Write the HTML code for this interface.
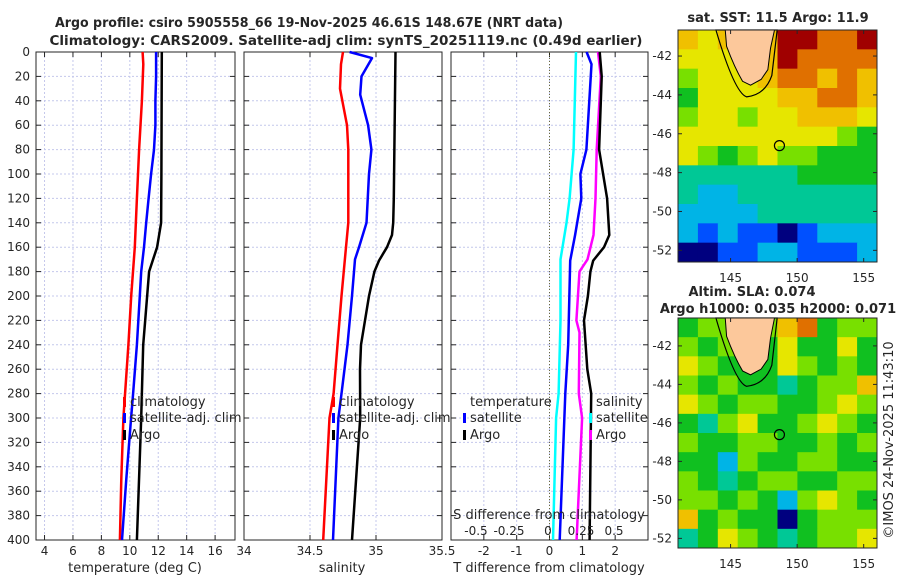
<!DOCTYPE html>
<html><head><meta charset="utf-8"><style>
body{margin:0;background:#fff;font-family:"DejaVu Sans","Liberation Sans",sans-serif;}
svg text{font-family:"DejaVu Sans","Liberation Sans",sans-serif;}
</style></head><body>
<svg id="fig" xmlns="http://www.w3.org/2000/svg" width="900" height="580" viewBox="0 0 900 580">
<g id="g"></g>
</svg>
<script>
// ---- data ----
const tempClimDepth=[0,10,40,80,120,160,200,240,300,350,400];
const tempClim=[10.9,10.95,10.85,10.65,10.5,10.35,10.1,9.9,9.55,9.4,9.3];
const tempSatDepth=[0,20,40,60,80,100,120,140,160,180,200,240,280,300,350,400];
const tempSat=[11.85,11.85,11.8,11.8,11.7,11.5,11.32,11.15,11.0,10.8,10.7,10.5,10.23,10.09,9.75,9.45];
const tempArgoDepth=[0,100,140,160,170,180,220,240,300,400];
const tempArgo=[12.25,12.22,12.2,11.92,11.64,11.36,11.08,10.94,10.8,10.5];
const salClimDepth=[0,10,30,60,80,140,160,200,240,280,300,400];
const salClim=[34.75,34.735,34.727,34.78,34.79,34.79,34.773,34.739,34.708,34.679,34.648,34.6];
const salSatDepth=[0,5,20,35,60,80,100,140,160,170,200,240,280,300,400];
const salSat=[34.80,34.97,34.89,34.88,34.94,34.965,34.947,34.928,34.871,34.841,34.818,34.784,34.739,34.715,34.674];
const salArgoDepth=[0,120,140,150,160,171,180,200,220,240,260,300,400];
const salArgo=[35.148,35.135,35.13,35.121,35.083,35.023,34.988,34.947,34.917,34.886,34.879,34.88,34.818];
const dTSatDepth=[0,10,80,100,120,150,171,240,280,400];
const dTSat=[1.13,1.28,1.125,0.94,0.97,0.78,0.63,0.57,0.48,0.31];
const dTArgoDepth=[0,20,80,120,150,160,171,180,200,220,260,280,400];
const dTArgo=[1.53,1.59,1.51,1.755,1.82,1.66,1.33,1.245,1.17,1.05,1.15,1.27,1.22];
const dSSatDepth=[0,80,120,140,170,220,280,300,400];
const dSSat=[0.212,0.194,0.164,0.14,0.095,0.095,0.08,0.061,0.038];
const dSArgoDepth=[0,20,80,120,150,170,180,220,230,280,300,400];
const dSArgo=[0.379,0.40,0.369,0.36,0.345,0.299,0.239,0.215,0.239,0.233,0.258,0.217];
const depthTicks=[0,20,40,60,80,100,120,140,160,180,200,220,240,260,280,300,320,340,360,380,400];
const tempTicks=[4,6,8,10,12,14,16];
const salTicks=[34,34.5,35,35.5];
const dTTicks=[-2,-1,0,1,2];
const dSTicks=[-0.5,-0.25,0,0.25,0.5];
const latTicks=[-42,-44,-46,-48,-50,-52];
const lonTicks=[145,150,155];
// map grids (colour index 0..9)
const sstGrid=[
[7,6,7,7,7,9,9,8,8,9],
[6,6,6,7,7,9,8,8,8,8],
[5,6,6,6,7,8,8,7,8,7],
[4,6,6,6,6,7,7,8,8,7],
[5,6,6,5,6,6,7,7,7,6],
[6,6,6,6,6,6,6,6,5,4],
[6,5,4,5,6,5,5,4,4,4],
[3,3,3,3,3,3,4,4,4,4],
[3,2,2,3,3,3,3,3,3,3],
[2,2,2,2,3,3,3,3,3,3],
[2,1,2,1,1,0,1,2,2,2],
[0,0,1,1,2,2,1,1,1,2]];
const slaGrid=[
[4,5,5,5,5,7,8,4,5,5],
[5,4,5,4,4,6,4,4,6,4],
[6,5,4,4,4,6,5,4,5,4],
[5,4,5,4,4,3,4,5,5,7],
[6,5,4,5,5,4,4,5,6,5],
[4,3,5,6,4,4,5,6,5,4],
[5,4,4,5,5,4,4,5,4,5],
[4,4,2,5,4,4,5,5,4,4],
[5,4,3,4,5,5,4,4,5,5],
[5,5,4,5,4,2,5,6,5,4],
[7,4,5,4,4,0,4,5,5,5],
[3,4,6,5,4,3,4,5,5,6]];
const cmap=['#00007f','#0050ff','#00b4e6','#00c896','#10c020','#78e000','#e6e600','#f0c000','#e07000','#a00000'];

// ---- helpers ----
const NS='http://www.w3.org/2000/svg';
const G=document.getElementById('g');
function el(tag,attrs,parent){const e=document.createElementNS(NS,tag);for(const k in attrs)e.setAttribute(k,attrs[k]);(parent||G).appendChild(e);return e;}
function txt(x,y,s,anchor,size,weight,parent){const t=el('text',{x:x,y:y,'text-anchor':anchor||'middle','font-size':size||12,'font-weight':weight||'normal',fill:'#262626'},parent);t.textContent=s;return t;}
const top0=52,bot0=540;
function yD(d){return top0+d*(bot0-top0)/400;}
function lin(d0,d1,r0,r1){return v=>r0+(v-d0)*(r1-r0)/(d1-d0);}
const xT=lin(3.4,17.4,36,235), xS=lin(34,35.5,244,442), xdT=lin(-3,3,451,648), xdS=lin(-0.5,0.5,482,614);

function panel(name,x0,x1,xf,ticks,fmt,showY){
  const p=el('g',{});
  
  
  depthTicks.forEach(d=>{el('line',{x1:x0,x2:x1,y1:yD(d),y2:yD(d),stroke:'#c4c8ec','stroke-width':1,'stroke-dasharray':'2,2'},p);
    el('line',{x1:x0,x2:x0+5,y1:yD(d),y2:yD(d),stroke:'#262626'},p);el('line',{x1:x1-5,x2:x1,y1:yD(d),y2:yD(d),stroke:'#262626'},p);
    if(showY){const t=txt(30,yD(d)+4,String(d),'end',12,'normal',p);}});
  ticks.forEach(v=>{const x=xf(v);el('line',{x1:x,x2:x,y1:top0,y2:bot0,stroke:'#c4c8ec','stroke-dasharray':'2,2'},p);
    el('line',{x1:x,x2:x,y1:bot0-5,y2:bot0,stroke:'#262626'},p);el('line',{x1:x,x2:x,y1:top0,y2:top0+5,stroke:'#262626'},p);
    const t=txt(x,555,fmt(v),'middle',12,'normal',p);});
  el('rect',{x:x0,y:top0,width:x1-x0,height:bot0-top0,fill:'none',stroke:'#262626','stroke-width':1},p);
  return p;
}
function series(name,depths,vals,xf,color,w){
  const pts=depths.map((d,i)=>xf(vals[i]).toFixed(1)+','+yD(d).toFixed(1)).join(' ');
  const l=el('polyline',{points:pts,fill:'none',stroke:color,'stroke-width':w||2.5,'stroke-linejoin':'round'});
  
  
}
function legend(x,y,color,label,name){
  el('rect',{x:x,y:y-9,width:3,height:10,fill:color});
  const t=txt(x+7,y,label,'start',13,'normal');
  
  
}

// ---- titles ----
let t=txt(309,27,'Argo profile: csiro 5905558_66 19-Nov-2025 46.61S 148.67E (NRT data)','middle',13,'bold');
t.setAttribute('textLength','508');
t.setAttribute('lengthAdjust','spacingAndGlyphs');


t=txt(346,45,'Climatology: CARS2009. Satellite-adj clim: synTS_20251119.nc (0.49d earlier)','middle',13,'bold');
t.setAttribute('textLength','593');
t.setAttribute('lengthAdjust','spacingAndGlyphs');



// ---- panels ----
panel('temperature-panel',36,235,xT,tempTicks,v=>String(v),true);
panel('salinity-panel',244,442,xS,salTicks,v=>String(v),false);
panel('difference-panel',451,648,xdT,dTTicks,v=>String(v),false);
el('line',{x1:xdT(0),x2:xdT(0),y1:top0,y2:bot0,stroke:'#6b6b3a','stroke-dasharray':'1,2'});

series('temp-climatology-line',tempClimDepth,tempClim,xT,'#ff0000');
series('temp-satellite-line',tempSatDepth,tempSat,xT,'#0000ff');
series('temp-argo-line',tempArgoDepth,tempArgo,xT,'#000000');
series('sal-climatology-line',salClimDepth,salClim,xS,'#ff0000');
series('sal-satellite-line',salSatDepth,salSat,xS,'#0000ff');
series('sal-argo-line',salArgoDepth,salArgo,xS,'#000000');
series('dS-satellite-line',dSSatDepth,dSSat,xdS,'#00ffff');
series('dT-satellite-line',dTSatDepth,dTSat,xdT,'#0000ff');
series('dS-argo-line',dSArgoDepth,dSArgo,xdS,'#ff00ff');
series('dT-argo-line',dTArgoDepth,dTArgo,xdT,'#000000');

legend(123,406,'#ff0000','climatology','legend-climatology');
legend(123,422,'#0000ff','satellite-adj. clim','legend-satellite-adj');
legend(123,439,'#000000','Argo','legend-argo');
legend(332,406,'#ff0000','climatology','legend-climatology-2');
legend(332,422,'#0000ff','satellite-adj. clim','legend-satellite-adj-2');
legend(332,439,'#000000','Argo','legend-argo-2');
t=txt(470,406,'temperature','start',13);
legend(463,422,'#0000ff','satellite','legend-t-satellite');
legend(463,439,'#000000','Argo','legend-t-argo');
t=txt(596,406,'salinity','start',13);
legend(589,422,'#00ffff','satellite','legend-s-satellite');
legend(589,439,'#ff00ff','Argo','legend-s-argo');
t=txt(549,519,'S difference from climatology','middle',13);
dSTicks.forEach(v=>{const s=txt(xdS(v)-(v<0?6:0),535,String(v),'middle',12);});

t=txt(135,572,'temperature (deg C)','middle',13);
t=txt(342,572,'salinity','middle',13);
t=txt(549,572,'T difference from climatology','middle',13);

// ---- maps ----
function map(name,grid,y0,y1,latTop,latBot){
  const x0=678,x1=877,lonL=141.05,lonR=156;
  const m=el('g',{});
  
  
  const rows=grid.length,cols=grid[0].length,cw=(x1-x0)/cols,ch=(y1-y0)/rows;
  grid.forEach((r,i)=>r.forEach((v,j)=>{
    const c=el('rect',{x:x0+j*cw,y:y0+i*ch,width:cw+0.5,height:ch+0.5,fill:cmap[v]},m);
    
    
  }));
  const lx=lin(lonL,lonR,x0,x1), ly=lin(latTop,latBot,y0,y1);
  el('path',{d:`M${lx(143.9)},${y0} Q${lx(145.3)},${ly(-43.9)} ${lx(146.2)},${ly(-44.1)} Q${lx(147.6)},${ly(-44)} ${lx(148.1)},${ly(-43)} L${lx(148.5)},${y0} Z`,fill:'none',stroke:'#000','stroke-width':1.2},m);
  el('path',{d:`M${lx(144.6)},${y0} L${lx(144.7)},${ly(-41.5)} Q${lx(145.3)},${ly(-42.6)} ${lx(145.9)},${ly(-43.3)} L${lx(146.5)},${ly(-43.5)} L${lx(147.3)},${ly(-43.2)} L${lx(147.8)},${ly(-42.7)} L${lx(148.0)},${ly(-41.6)} L${lx(148.3)},${y0} Z`,fill:'#fcc89b',stroke:'#000','stroke-width':1},m);
  el('circle',{cx:lx(148.67),cy:ly(-46.61),r:5,fill:'none',stroke:'#000','stroke-width':1.2},m);
  el('rect',{x:x0,y:y0,width:x1-x0,height:y1-y0,fill:'none',stroke:'#262626'},m);
  latTicks.forEach(v=>{const y=ly(v);el('line',{x1:x0,x2:x0+4,y1:y,y2:y,stroke:'#262626'},m);el('line',{x1:x1-4,x2:x1,y1:y,y2:y,stroke:'#262626'},m);
    const s=txt(x0-6,y+4,String(v),'end',12,'normal',m);});
  lonTicks.forEach(v=>{const x=lx(v);el('line',{x1:x,x2:x,y1:y1-4,y2:y1,stroke:'#262626'},m);el('line',{x1:x,x2:x,y1:y0,y2:y0+4,stroke:'#262626'},m);
    const s=txt(x,y1+20,String(v),'middle',12,'normal',m);});
}
map('sst-map',sstGrid,30,262,-40.66,-52.6);
map('sla-map',slaGrid,318,548,-40.55,-52.5);
t=txt(778,22,'sat. SST: 11.5 Argo: 11.9','middle',13,'bold');
t=txt(752,296,'Altim. SLA: 0.074','middle',13,'bold');
t=txt(778,313,'Argo h1000: 0.035 h2000: 0.071','middle',13,'bold');
t=txt(0,0,'©IMOS 24-Nov-2025 11:43:10','middle',13);
t.setAttribute('transform','translate(893,440) rotate(-90)');


</script>
</body></html>
